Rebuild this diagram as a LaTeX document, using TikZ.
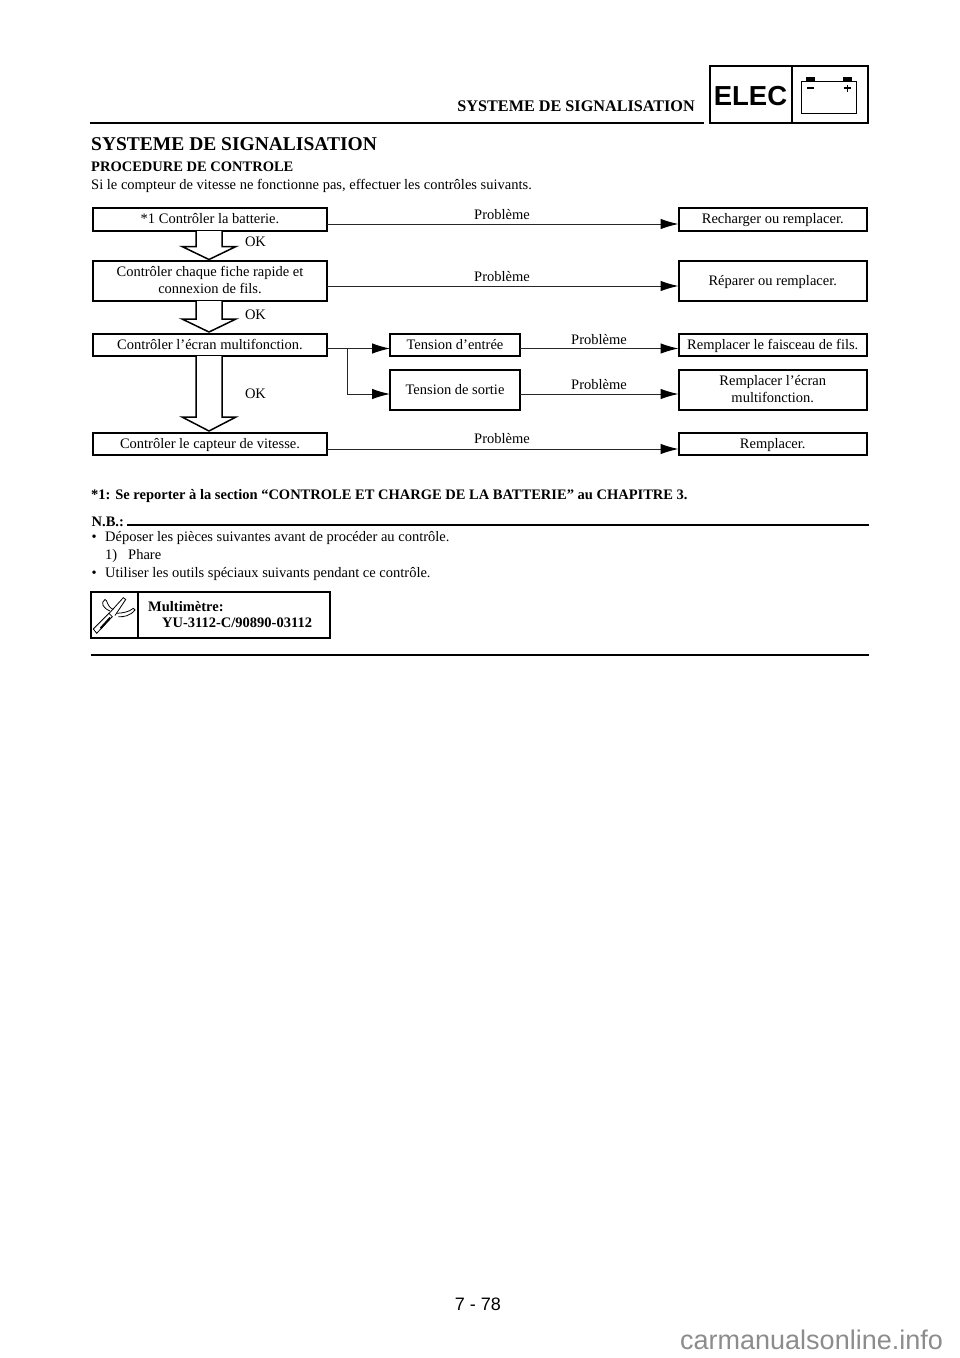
\documentclass[tikz,border=0pt]{standalone}
\usepackage{fontspec}
\setmainfont{Liberation Serif}
\newfontfamily\helv{Liberation Sans}
\usetikzlibrary{arrows.meta}
\newcommand\st{\rule[-4.65pt]{0pt}{17.3pt}}
\tikzset{
  flowbox/.style={draw=black,line width=2pt,fill=white,rectangle,minimum width=234pt,align=center,inner sep=0pt,outer sep=0pt,font=\fontsize{14.5}{17.3}\selectfont},
  rightbox/.style={flowbox,minimum width=188.5pt},
  midbox/.style={flowbox,minimum width=130pt},
  lbl/.style={inner sep=0pt,anchor=base,font=\fontsize{14.5}{16}\selectfont},
  txt/.style={inner sep=0pt,anchor=base west,font=\fontsize{14.5}{16}\selectfont},
  boldtxt/.style={txt,font=\bfseries\fontsize{14.5}{16}\selectfont},
  conn/.style={line width=1pt,draw=black!85,-{Latex[length=18pt,width=10.5pt,black]}},
  fatarrow/.style={draw=black,line width=1.5pt,fill=white,line join=miter},
  rulethick/.style={line width=2.4pt,black}
}
\begin{document}
\begin{tikzpicture}[x=1pt,y=-1pt]
\useasboundingbox (0,0) rectangle (960,1358);
% header
\node[inner sep=0pt,anchor=base east,font=\bfseries\fontsize{16.2}{18}\selectfont] (hd) at (695,111) {SYSTEME DE SIGNALISATION};
\coordinate (rl) at (90,123); \coordinate (rr) at (703.5,123);
\draw[rulethick] (rl) -- (rr);
\draw[line width=2pt] (709.5,65.5) rectangle (867.5,122.8);
\draw[line width=2pt] (791.5,65.5) -- (791.5,122.8);
\node[inner sep=0pt,anchor=base,font=\helv\bfseries\fontsize{27.5}{30}\selectfont] (elec) at (750.5,105) {ELEC};
% battery
\draw[line width=0.9pt] (801.3,81) rectangle (856.7,113.3);
\fill (806,76.7) rectangle (815,81);
\fill (842.7,76.7) rectangle (851.7,81);
\draw[line width=1.2pt] (807,88) -- (814.3,88);
\draw[line width=1.2pt] (844,88) -- (850.7,88) (847.3,84.5) -- (847.3,91.5);
% title
\node[txt,font=\bfseries\fontsize{19.5}{24}\selectfont] (title) at (91,150) {SYSTEME DE SIGNALISATION};
\node[txt,font=\bfseries\fontsize{14.5}{16}\selectfont] (proc) at (91,171) {PROCEDURE DE CONTROLE};
\node[txt] (intro) at (91,189) {Si le compteur de vitesse ne fonctionne pas, effectuer les contrôles suivants.};
% left boxes
\node[flowbox,minimum height=23pt] (b1) at (210,219.5) {\st*1 Contrôler la batterie.};
\node[flowbox,minimum height=40pt] (b2) at (210,281) {\st Contrôler chaque fiche rapide et\\\st connexion de fils.};
\node[flowbox,minimum height=22pt] (b3) at (210,345) {\st Contrôler l’écran multifonction.};
\node[flowbox,minimum height=22pt] (b4) at (210,444) {\st Contrôler le capteur de vitesse.};
% middle boxes
\node[midbox,minimum height=22pt] (t1) at (455,345) {\st Tension d’entrée};
\node[midbox,minimum height=40pt] (t2) at (455,390) {\st Tension de sortie};
% right boxes
\node[rightbox,minimum height=23pt] (r1) at (772.75,219.5) {\st Recharger ou remplacer.};
\node[rightbox,minimum height=40pt] (r2) at (772.75,281) {\st Réparer ou remplacer.};
\node[rightbox,minimum height=22pt] (r3) at (772.75,345) {\st Remplacer le faisceau de fils.};
\node[rightbox,minimum height=40pt] (r4) at (772.75,390) {\st Remplacer l’écran\\\st multifonction.};
\node[rightbox,minimum height=22pt] (r5) at (772.75,444) {\st Remplacer.};
% connectors
\draw[conn] (b1.east |- 0,224) -- (r1.west |- 0,224);
\draw[conn] (b2.east |- 0,286) -- (r2.west |- 0,286);
\draw[conn] (b4.east |- 0,449) -- (r5.west |- 0,449);
\draw[conn] (t1.east |- 0,348.5) -- (r3.west |- 0,348.5);
\draw[conn] (t2.east |- 0,394) -- (r4.west |- 0,394);
\draw[conn] (b3.east |- 0,348.5) -- (t1.west |- 0,348.5);
\draw[conn] (347,348.5) -- (347,394) -- (t2.west |- 0,394);
% connector labels
\node[lbl] (p1) at (502,219) {Problème};
\node[lbl] (p2) at (502,281) {Problème};
\node[lbl] (p3) at (599,344) {Problème};
\node[lbl] (p4) at (599,389) {Problème};
\node[lbl] (p5) at (502,443) {Problème};
% fat arrows
\draw[fatarrow] (b1.south -| 196,0) -- (196,246.5) -- (182,246.5) -- (209,259.5) -- (236,246.5) -- (222,246.5) -- (b1.south -| 222,0);
\draw[fatarrow] (b2.south -| 196,0) -- (196,319) -- (182,319) -- (209,332) -- (236,319) -- (222,319) -- (b2.south -| 222,0);
\draw[fatarrow] (b3.south -| 196,0) -- (196,417) -- (182,417) -- (209,431) -- (236,417) -- (222,417) -- (b3.south -| 222,0);
\node[lbl] (ok1) at (255.5,246) {OK};
\node[lbl] (ok2) at (255.5,319) {OK};
\node[lbl] (ok3) at (255.5,398) {OK};
% note
\node[boldtxt] (star) at (91,499) {*1: Se reporter à la section “CONTROLE ET CHARGE DE LA BATTERIE” au CHAPITRE 3.};
\node[boldtxt] (nb) at (91.5,526) {N.B.:};
\draw[rulethick] (127,525) -- (869,525);
\node[txt] (d1) at (91.5,541) {•};
\node[txt] (d2) at (105,541) {Déposer les pièces suivantes avant de procéder au contrôle.};
\node[txt] (d3) at (105,559) {1)};
\node[txt] (d4) at (128,559) {Phare};
\node[txt] (d5) at (91.5,577) {•};
\node[txt] (d6) at (105,577) {Utiliser les outils spéciaux suivants pendant ce contrôle.};
% tool box
\draw[line width=2pt] (91,591.5) rectangle (329.5,638);
\draw[line width=2pt] (137.5,591.5) -- (137.5,638);
\begin{scope}[line width=0.8pt]
\draw (109,613.5) -- (123.3,597.7) -- (125.7,599.5) -- (115,615.5);
\draw (110,611) .. controls (103,608) and (100,603) .. (105,599.5) .. controls (108,600) and (106,606) .. (113.3,609.5);
\draw (116.7,613.3) .. controls (123,613) and (129,612) .. (133.3,608.3) -- (135,610) .. controls (130,616) and (124,617) .. (118.3,616.7);
\draw[fill=white] (93.3,629) -- (109,613.3) -- (112.3,616.7) -- (96.7,633.3) -- cycle;
\fill (100,627.5) -- (109.5,617) -- (111,618) -- (101.5,629) -- cycle;
\end{scope}
\node[boldtxt] (m1) at (148,611) {Multimètre:};
\node[boldtxt] (m2) at (162,627) {YU-3112-C/90890-03112};
\draw[rulethick] (91,655) -- (869,655);
% page number
\node[inner sep=0pt,anchor=base,font=\helv\fontsize{18}{20}\selectfont] (pg) at (478,1310) {7 - 78};
\node[inner sep=0pt,anchor=base west,text=black!45,font=\helv\fontsize{27}{28}\selectfont] (wm) at (680,1349) {carmanualsonline.info};
\end{tikzpicture}
\end{document}
